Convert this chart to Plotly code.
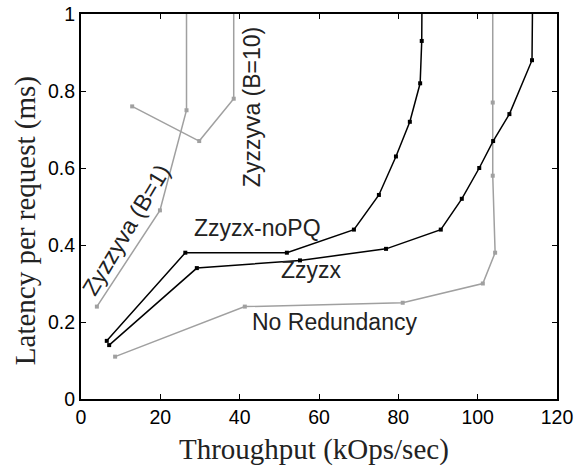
import plotly.graph_objects as go

# Data (throughput kOps/sec, latency ms); final point runs off the top of the plot
b1_x = [4.0, 19.9, 26.6, 26.6]
b1_y = [0.24, 0.49, 0.75, 1.1]

b10_x = [12.9, 29.8, 38.5, 38.5]
b10_y = [0.76, 0.67, 0.78, 1.1]

nopq_x = [6.5, 26.3, 51.9, 68.8, 75.1, 79.4, 82.9, 85.5, 85.9, 86.0]
nopq_y = [0.151, 0.38, 0.38, 0.44, 0.53, 0.63, 0.72, 0.82, 0.93, 1.1]

zz_x = [7.1, 29.2, 55.2, 76.9, 90.7, 96.0, 100.4, 103.9, 108.0, 113.7, 113.9]
zz_y = [0.14, 0.34, 0.36, 0.39, 0.44, 0.52, 0.60, 0.67, 0.74, 0.88, 1.1]

nr_x = [8.6, 41.3, 81.1, 101.3, 104.4, 103.8, 103.8, 103.8]
nr_y = [0.11, 0.24, 0.25, 0.30, 0.38, 0.58, 0.77, 1.1]

x_ticks = [0, 20, 40, 60, 80, 100, 120]
y_ticks = [0, 0.2, 0.4, 0.6, 0.8, 1]
y_tick_labels = ["0", "0.2", "0.4", "0.6", "0.8", "1"]

GRAY = "#a0a0a0"
BLACK = "#000000"

fig = go.Figure()
for xs, ys, col in [(b1_x, b1_y, GRAY), (b10_x, b10_y, GRAY), (nr_x, nr_y, GRAY),
                    (nopq_x, nopq_y, BLACK), (zz_x, zz_y, BLACK)]:
    fig.add_trace(go.Scatter(x=xs, y=ys, mode="lines+markers",
                             line=dict(color=col, width=1.5),
                             marker=dict(symbol="square", size=4, color=col),
                             showlegend=False, cliponaxis=True))

lab_font = dict(family="Liberation Sans, Arial, sans-serif", size=23, color="#222")
annots = [
    dict(text="Zyzzyva (B=1)", x=11.3, y=0.44, textangle=-59),
    dict(text="Zyzzyva (B=10)", x=43.1, y=0.758, textangle=-90),
    dict(text="Zzyzx-noPQ", x=44.4, y=0.444),
    dict(text="Zzyzx", x=58.0, y=0.335),
    dict(text="No Redundancy", x=64.0, y=0.2),
]
for a in annots:
    fig.add_annotation(xref="x", yref="y", showarrow=False, font=lab_font, **a)

tick_font = dict(family="Liberation Sans, Arial, sans-serif", size=19.5, color="#000")
title_font = dict(family="Liberation Serif, Times New Roman, serif", size=29, color="#222")

# axis titles placed as paper-anchored text
fig.add_annotation(xref="paper", yref="paper", x=-0.1176, y=0.462, textangle=-90,
                   text="Latency per request (ms)", showarrow=False, font=title_font,
                   xanchor="center", yanchor="middle")
fig.add_annotation(xref="paper", yref="paper", x=0.49, y=-0.13,
                   text="Throughput (kOps/sec)", showarrow=False, font=title_font,
                   xanchor="center", yanchor="middle")

fig.update_layout(
    width=575, height=468,
    margin=dict(l=81, r=18, t=14, b=69),
    paper_bgcolor="white", plot_bgcolor="white",
    xaxis=dict(range=[0, 120], tickvals=x_ticks, ticks="inside", ticklen=5,
               tickcolor="black", showline=True, linecolor="black", linewidth=2,
               mirror="ticks", showgrid=False, zeroline=False, tickfont=tick_font,
               automargin=False, ticklabeloverflow="allow"),
    yaxis=dict(range=[0, 1], tickvals=y_ticks, ticktext=y_tick_labels, ticks="inside",
               ticklen=5, tickcolor="black", showline=True, linecolor="black",
               linewidth=2, mirror="ticks", showgrid=False, zeroline=False,
               tickfont=tick_font, automargin=False, ticklabeloverflow="allow"),
)

fig.write_html("out.html", config={"displayModeBar": False},
               post_script="document.body.style.margin='0';")
